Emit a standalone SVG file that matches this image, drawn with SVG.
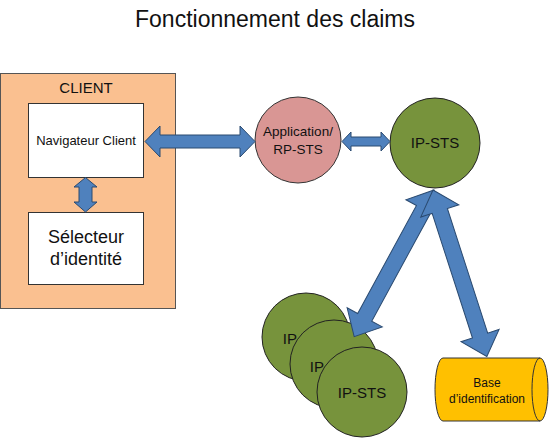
<svg xmlns="http://www.w3.org/2000/svg" width="550" height="439" viewBox="0 0 550 439">
<style>
text{font-family:"Liberation Sans",Arial,sans-serif;fill:#111;text-anchor:middle}
.arrow{fill:#4F81BD;stroke:#2A4A70;stroke-width:1;stroke-linejoin:miter}
.green{fill:#77933C;stroke:#222;stroke-width:1}
.box{fill:#fff;stroke:#333;stroke-width:1}
</style>
<rect width="550" height="439" fill="#fff"/>
<text x="275" y="27" font-size="23">Fonctionnement des claims</text>

<g id="client">
<rect x="0.5" y="73.5" width="175" height="235" fill="#FAC090" stroke="#555" stroke-width="1"/>
<text x="86" y="93" font-size="15">CLIENT</text>
</g>
<g id="navigateur">
<rect class="box" x="28.5" y="103.5" width="115" height="74"/>
<text x="86" y="145" font-size="13">Navigateur Client</text>
</g>
<g id="selecteur">
<rect class="box" x="28.5" y="212.5" width="115" height="72"/>
<text x="86" y="243" font-size="18">Sélecteur</text>
<text x="86" y="265" font-size="18">d’identité</text>
</g>
<g id="application">
<circle cx="298" cy="140" r="43" fill="#D99694" stroke="#333" stroke-width="1"/>
<text x="298" y="136" font-size="13.5">Application/</text>
<text x="298" y="154" font-size="13.5">RP-STS</text>
</g>
<g id="ipsts">
<circle class="green" cx="435" cy="143" r="45"/>
<text x="435" y="148" font-size="15">IP-STS</text>
</g>
<g id="ipsts-1">
<circle class="green" cx="306" cy="337" r="44"/>
<text x="307" y="344" font-size="15">IP-STS</text>
</g>
<g id="ipsts-2">
<circle class="green" cx="334" cy="364" r="44"/>
<text x="334" y="372" font-size="15">IP-STS</text>
</g>
<g id="ipsts-3">
<circle class="green" cx="362" cy="392" r="45"/>
<text x="362" y="398" font-size="15">IP-STS</text>
</g>
<g id="base">
<path d="M443,358 L540,358 A8,31.5 0 0 1 540,421 L443,421 A8,31.5 0 0 1 443,358 Z" fill="#FFC000" stroke="#333" stroke-width="1"/>
<path d="M540,358 A8,31.5 0 0 0 540,421" fill="none" stroke="#333" stroke-width="1"/>
<text x="487" y="387" font-size="12">Base</text>
<text x="487" y="403" font-size="12">d’identification</text>
</g>

<g id="connectors">
<path class="arrow" d="M145,141.5 L160,126 L160,135 L240,135 L240,126 L255,141.5 L240,157 L240,148 L160,148 L160,157 Z"/>
<path class="arrow" d="M342,141.5 L351,132 L351,137 L381,137 L381,132 L390,141.5 L381,151 L381,146 L351,146 L351,151 Z"/>
<path class="arrow" d="M85.5,177.5 L97,187 L92,187 L92,202 L97,202 L85.5,212 L74,202 L79,202 L79,187 L74,187 Z"/>
<path class="arrow" transform="translate(434,190) rotate(118.55)" d="M0,0 L22,-20 L22,-8 L145,-8 L145,-20 L167,0 L145,20 L145,8 L22,8 L22,20 Z"/>
<path class="arrow" transform="translate(433,190) rotate(72.08)" d="M0,0 L22,-20 L22,-8 L153,-8 L153,-20 L175,0 L153,20 L153,8 L22,8 L22,20 Z"/>
</g>
</svg>
